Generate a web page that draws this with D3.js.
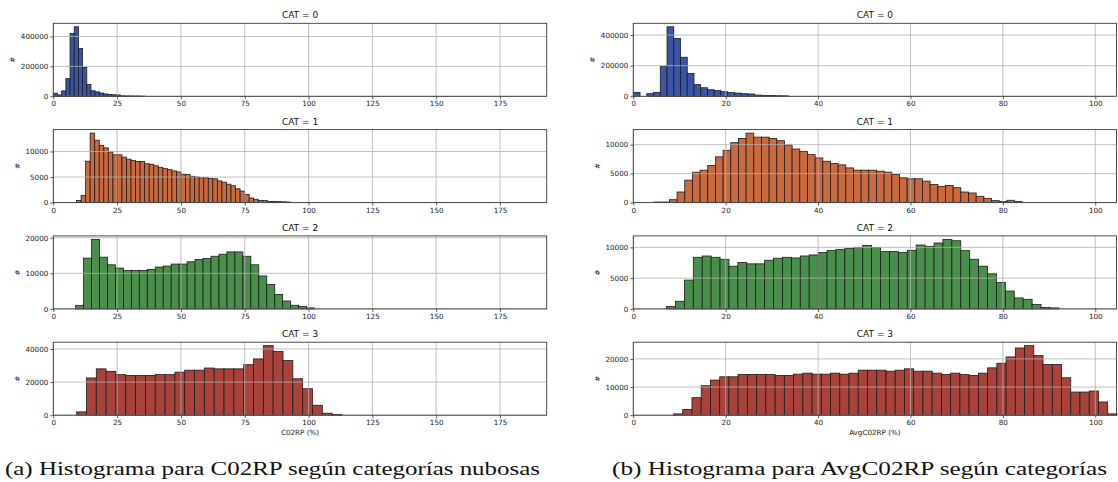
<!DOCTYPE html>
<html>
<head>
<meta charset="utf-8">
<script src="https://cdn.jsdelivr.net/npm/d3@7"></script>
<style>
    body { margin: 0; background: #fff; }
    svg { display: block; }
</style>
</head>
<body>
<div id="chart"></div>
<script>
// Titles of each row
const catLabels = ["CAT = 0", "CAT = 1", "CAT = 2", "CAT = 3"];

// Left column: C02RP histograms (first bin edge, bin width, counts)
const c02rpBinStart = [0, 9.1, 8.75, 9.14];
const c02rpBinWidth = [1.64, 1.78, 3.12, 3.85];
const c02rpCat0 = [20000, 9000, 36000, 118000, 420000, 465000, 320000, 194000, 80000, 37000,
    30000, 22000, 16000, 12000, 10000, 9000, 3000, 2500, 2000, 2000, 1500, 1000];
const c02rpCat1 = [400, 1400, 8100, 13600, 12200, 11200, 10700, 9900, 9350, 9350,
    8900, 8500, 8250, 8050, 8050, 7600, 7500, 7200, 6900, 6650,
    6450, 6200, 6000, 5550, 5500, 5150, 5000, 4850, 4850, 4700,
    4650, 4250, 4000, 3600, 3300, 2700, 2250, 1600, 900, 650,
    400, 400, 200, 200, 180, 150, 120];
const c02rpCat2 = [1000, 14260, 19540, 14540, 12400, 11480, 10830, 10830, 10830, 11100,
    11760, 12040, 12600, 12600, 13240, 13900, 14170, 14800, 15370, 16020,
    16020, 14800, 12400, 9260, 6850, 4070, 2220, 1020, 650, 280];
const c02rpCat3 = [2000, 22500, 28000, 26500, 24500, 24000, 24000, 24000, 24500, 24500,
    26000, 27200, 27200, 28500, 28000, 28000, 28000, 30500, 34000, 42000,
    38500, 33000, 22000, 16000, 6000, 1200, 500];

// Right column: AvgC02RP histograms
const avgBinStart = [0, 4.5, 7.2, 8.7];
const avgBinWidth = [1.46, 1.66, 1.93, 2.0];
const avgCat0 = [26000, 0, 17000, 26000, 197000, 454000, 378000, 255000, 149000, 76000,
    56000, 43000, 37000, 30000, 24000, 21000, 17000, 15000, 8000, 6000,
    5000, 4000, 3000];
const avgCat1 = [100, 100, 500, 1830, 3880, 5250, 5600, 6400, 7900, 9030,
    10340, 11080, 12000, 11300, 11300, 11080, 10680, 9940, 9250, 8850,
    8280, 7710, 7140, 6740, 6510, 5990, 5600, 5600, 5600, 5430,
    5250, 4850, 4280, 4110, 4110, 3710, 3140, 2800, 2970, 2570,
    1830, 1660, 1090, 740, 340, 170, 400, 170];
const avgCat2 = [380, 1240, 4680, 8390, 8600, 8390, 8070, 6940, 7530, 7320,
    7320, 7910, 8230, 8390, 8280, 8600, 8770, 9150, 9470, 9680,
    9850, 10000, 10330, 10000, 9310, 9310, 9150, 9520, 10380, 10170,
    10710, 11300, 11080, 9470, 8070, 6940, 5700, 4300, 2900, 1780,
    1560, 700, 220, 160];
const avgCat3 = [470, 2000, 6230, 10470, 12470, 13640, 13640, 14470, 14470, 14470,
    14470, 14100, 14100, 14580, 14940, 14580, 14580, 14940, 14580, 14940,
    16000, 16000, 16000, 15640, 16000, 16470, 15640, 15640, 14940, 14470,
    14940, 14470, 14100, 14940, 16820, 18470, 20700, 23880, 24700, 21170,
    18000, 18000, 13290, 8230, 8230, 8590, 4700, 470];

// Axis ticks
const c02rpXTicks = [0, 25, 50, 75, 100, 125, 150, 175];
const avgXTicks = [0, 20, 40, 60, 80, 100];
const c02rpYTicks = [[0, 200000, 400000], [0, 5000, 10000], [0, 10000, 20000], [0, 20000, 40000]];
const avgYTicks = [[0, 200000, 400000], [0, 5000, 10000], [0, 5000, 10000], [0, 10000, 20000]];

const barColors = ["#3b54a3", "#c9693f", "#4a8e4b", "#a8423b"];

const width = 1118;
const height = 482;

const svg = d3.select("#chart")
    .append("svg")
    .attr("width", width)
    .attr("height", height)
    .style("font-family", "'DejaVu Sans', sans-serif");

const panelTops = [23.3, 129.6, 235.9, 342.2];
const panelH = 73;

const columns = [
    {
        x0: 53.3, x1: 546.7, xMax: 193.3,
        starts: c02rpBinStart, widths: c02rpBinWidth,
        series: [c02rpCat0, c02rpCat1, c02rpCat2, c02rpCat3],
        xTicks: c02rpXTicks, yTicks: c02rpYTicks,
        xLabel: "C02RP (%)",
        caption: "(a) Histograma para C02RP según categorías nubosas",
        capX: 5, capLen: 535
    },
    {
        x0: 633.3, x1: 1116.5, xMax: 104.6,
        starts: avgBinStart, widths: avgBinWidth,
        series: [avgCat0, avgCat1, avgCat2, avgCat3],
        xTicks: avgXTicks, yTicks: avgYTicks,
        xLabel: "AvgC02RP (%)",
        caption: "(b) Histograma para AvgC02RP según categorías",
        capX: 612, capLen: 495
    }
];

columns.forEach(col => {
    const x = d3.scaleLinear().domain([0, col.xMax]).range([col.x0, col.x1]);

    col.series.forEach((counts, k) => {
        const top = panelTops[k];
        const y = d3.scaleLinear()
            .domain([0, d3.max(counts) * 1.05])
            .range([top + panelH, top]);

        const g = svg.append("g");

        // bars
        g.selectAll("rect")
            .data(counts)
            .enter().append("rect")
            .attr("x", (d, i) => x(col.starts[k] + i * col.widths[k]))
            .attr("width", (d, i) => x(col.starts[k] + (i + 1) * col.widths[k]) - x(col.starts[k] + i * col.widths[k]))
            .attr("y", d => y(d))
            .attr("height", d => y(0) - y(d))
            .attr("fill", barColors[k])
            .attr("stroke", "#1c1c1c")
            .attr("stroke-width", 0.8);

        // grid on top of the bars, like matplotlib
        g.selectAll(".gx")
            .data(col.xTicks)
            .enter().append("line")
            .attr("x1", d => x(d)).attr("x2", d => x(d))
            .attr("y1", top).attr("y2", top + panelH)
            .attr("stroke", "#b0b0b0").attr("stroke-width", 0.8);
        g.selectAll(".gy")
            .data(col.yTicks[k])
            .enter().append("line")
            .attr("x1", col.x0).attr("x2", col.x1)
            .attr("y1", d => y(d)).attr("y2", d => y(d))
            .attr("stroke", "#b0b0b0").attr("stroke-width", 0.8);

        // axes
        const xAxis = d3.axisBottom(x).tickValues(col.xTicks).tickSize(3).tickPadding(2);
        const yAxis = d3.axisLeft(y).tickValues(col.yTicks[k]).tickSize(3).tickPadding(2).tickFormat(d3.format("d"));

        const gx = g.append("g")
            .attr("transform", `translate(0,${top + panelH})`)
            .call(xAxis);
        const gy = g.append("g")
            .attr("transform", `translate(${col.x0},0)`)
            .call(yAxis);
        [gx, gy].forEach(a => {
            a.select(".domain").remove();
            a.selectAll("line").attr("stroke", "#333").attr("stroke-width", 0.8);
            a.selectAll("text")
                .attr("fill", "#222")
                .style("font-size", "7.2px")
                .style("font-family", "'DejaVu Sans', sans-serif");
        });

        // frame
        g.append("rect")
            .attr("x", col.x0).attr("y", top)
            .attr("width", col.x1 - col.x0).attr("height", panelH)
            .attr("fill", "none")
            .attr("stroke", "#3a3a3a")
            .attr("stroke-width", 0.9);

        // title
        g.append("text")
            .attr("x", (col.x0 + col.x1) / 2)
            .attr("y", top - 5)
            .attr("text-anchor", "middle")
            .style("font-size", "9px")
            .attr("fill", "#111")
            .text(catLabels[k]);

        // y label
        const labelX = col.x0 - (k === 0 ? 41 : 36);
        g.append("text")
            .attr("transform", `translate(${labelX},${top + panelH / 2}) rotate(-90)`)
            .attr("text-anchor", "middle")
            .attr("dy", "0.35em")
            .style("font-size", "7.2px")
            .attr("fill", "#222")
            .text("#");
    });

    // x label under the last row
    svg.append("text")
        .attr("x", (col.x0 + col.x1) / 2)
        .attr("y", panelTops[3] + panelH + 20)
        .attr("text-anchor", "middle")
        .style("font-size", "7.2px")
        .attr("fill", "#222")
        .text(col.xLabel);

    // caption
    svg.append("text")
        .attr("x", col.capX)
        .attr("y", 475)
        .attr("textLength", col.capLen)
        .attr("lengthAdjust", "spacingAndGlyphs")
        .style("font-family", "'Liberation Serif', 'DejaVu Serif', serif")
        .style("font-size", "19px")
        .attr("fill", "#111")
        .text(col.caption);
});
</script>
</body>
</html>
